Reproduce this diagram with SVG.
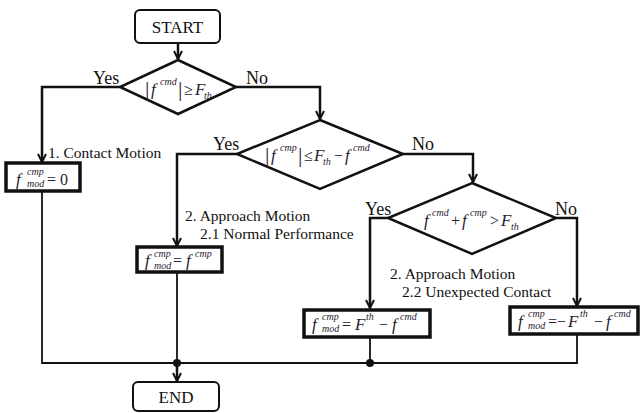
<svg xmlns="http://www.w3.org/2000/svg" width="640" height="413" viewBox="0 0 640 413">
<defs>
<style>
.lbl{font-family:"Liberation Serif","Times New Roman",serif;font-size:18px;fill:#111}
.txt{font-family:"Liberation Serif","Times New Roman",serif;font-size:15.5px;fill:#111}
.term{font-family:"Liberation Serif","Times New Roman",serif;font-size:17px;fill:#111;text-anchor:middle}
.m{font-family:"Liberation Serif","Times New Roman",serif;font-style:italic;font-size:17px;fill:#2a2030}
.mr{font-family:"Liberation Serif","Times New Roman",serif;font-size:16px;fill:#2a2030}
.s{font-family:"Liberation Serif","Times New Roman",serif;font-style:italic;font-size:10px;fill:#2a2030}
.bar{font-family:"Liberation Serif","Times New Roman",serif;font-size:22px;fill:#2a2030}
.rbox{fill:#fff;stroke:#111;stroke-width:2}
.dia{fill:#fff;stroke:#111;stroke-width:2.5}
.box{fill:#fff;stroke:#111;stroke-width:3.5}
.c{fill:none;stroke:#111;stroke-width:2.5}
.c2{fill:none;stroke:#111;stroke-width:1.8}
</style>
<marker id="arr" viewBox="0 0 10 10" refX="9" refY="5" markerWidth="10" markerHeight="10" markerUnits="userSpaceOnUse" orient="auto">
<path d="M1,1 L9,5 L1,9" fill="none" stroke="#111" stroke-width="2"/>
</marker>
</defs>

<g id="connectors">
<path class="c" d="M178,43 V59" marker-end="url(#arr)"/>
<path class="c" d="M120,87 H42 V162" marker-end="url(#arr)"/>
<path class="c" d="M236,87 H320 V119" marker-end="url(#arr)"/>
<path class="c" d="M237,154 H177 V246" marker-end="url(#arr)"/>
<path class="c" d="M403,154 H473 V182" marker-end="url(#arr)"/>
<path class="c" d="M388,218 H370 V308" marker-end="url(#arr)"/>
<path class="c" d="M556,218 H577 V306" marker-end="url(#arr)"/>
<path class="c2" d="M42,191 V363 H577 V334"/>
<path class="c2" d="M370,337 V363"/>
<path class="c2" d="M177,272 V363"/>
<path class="c" d="M177,363 V381" marker-end="url(#arr)"/>
<circle cx="177" cy="363" r="4" fill="#111"/>
<circle cx="370" cy="363" r="4" fill="#111"/>
<text class="lbl" x="93" y="84">Yes</text>
<text class="lbl" x="246" y="84">No</text>
<text class="lbl" x="213" y="150">Yes</text>
<text class="lbl" x="412" y="150">No</text>
<text class="lbl" x="365" y="215">Yes</text>
<text class="lbl" x="555" y="215">No</text>
<text class="txt" x="48" y="158">1. Contact Motion</text>
<text class="txt" x="185" y="221">2. Approach Motion</text>
<text class="txt" x="200" y="239">2.1 Normal Performance</text>
<text class="txt" x="390" y="279">2. Approach Motion</text>
<text class="txt" x="402" y="297">2.2 Unexpected Contact</text>
</g>

<g id="start">
<rect class="rbox" x="135" y="10" width="85" height="33" rx="5"/>
<text class="term" x="177.5" y="33">START</text>
</g>

<g id="decision1">
<polygon class="dia" points="178,60 236,87 178,114 120,87"/>
<text class="bar" x="145" y="96">|</text>
<text class="m" x="151" y="95">f</text>
<text class="s" x="160" y="85">cmd</text>
<text class="bar" x="178" y="96">|</text>
<text class="mr" x="184" y="95">≥</text>
<text class="m" x="195" y="95">F</text>
<text class="s" x="204" y="99">th</text>
</g>

<g id="decision2">
<polygon class="dia" points="320,120 403,154 320,189 237,154"/>
<text class="bar" x="265" y="162">|</text>
<text class="m" x="271" y="161">f</text>
<text class="s" x="280" y="151">cmp</text>
<text class="bar" x="298" y="162">|</text>
<text class="mr" x="304" y="161">≤</text>
<text class="m" x="314" y="161">F</text>
<text class="s" x="323" y="165">th</text>
<text class="mr" x="334" y="161">−</text>
<text class="m" x="345" y="161">f</text>
<text class="s" x="353" y="151">cmd</text>
</g>

<g id="decision3">
<polygon class="dia" points="472,183 556,218 472,254 388,218"/>
<text class="m" x="424" y="226">f</text>
<text class="s" x="432" y="216">cmd</text>
<text class="mr" x="451" y="226">+</text>
<text class="m" x="462" y="226">f</text>
<text class="s" x="470" y="216">cmp</text>
<text class="mr" x="490" y="226">&gt;</text>
<text class="m" x="501" y="226">F</text>
<text class="s" x="511" y="230">th</text>
</g>

<g id="box1">
<rect class="box" x="6" y="163" width="74" height="28"/>
<text class="m" x="16" y="185">f</text>
<text class="s" x="27" y="175">cmp</text>
<text class="s" x="27" y="187">mod</text>
<text class="mr" x="47" y="185">= 0</text>
</g>

<g id="box2">
<rect class="box" x="137" y="247" width="85" height="25"/>
<text class="m" x="145" y="266">f</text>
<text class="s" x="154" y="257">cmp</text>
<text class="s" x="154" y="269">mod</text>
<text class="mr" x="173" y="266">=</text>
<text class="m" x="186" y="266">f</text>
<text class="s" x="195" y="257">cmp</text>
</g>

<g id="box3">
<rect class="box" x="304" y="310" width="126" height="27"/>
<text class="m" x="312" y="330">f</text>
<text class="s" x="322" y="320">cmp</text>
<text class="s" x="322" y="332">mod</text>
<text class="mr" x="342" y="330">=</text>
<text class="m" x="355" y="330">F</text>
<text class="s" x="366" y="320">th</text>
<text class="mr" x="379" y="330">−</text>
<text class="m" x="392" y="330">f</text>
<text class="s" x="400" y="320">cmd</text>
</g>

<g id="box4">
<rect class="box" x="510" y="307" width="128" height="27"/>
<text class="m" x="518" y="327">f</text>
<text class="s" x="528" y="317">cmp</text>
<text class="s" x="528" y="329">mod</text>
<text class="mr" x="548" y="327">=−</text>
<text class="m" x="568" y="327">F</text>
<text class="s" x="580" y="317">th</text>
<text class="mr" x="594" y="327">−</text>
<text class="m" x="606" y="327">f</text>
<text class="s" x="614" y="317">cmd</text>
</g>

<g id="end">
<rect class="rbox" x="133" y="382" width="86" height="29" rx="5"/>
<text class="term" x="176" y="403">END</text>
</g>
</svg>
